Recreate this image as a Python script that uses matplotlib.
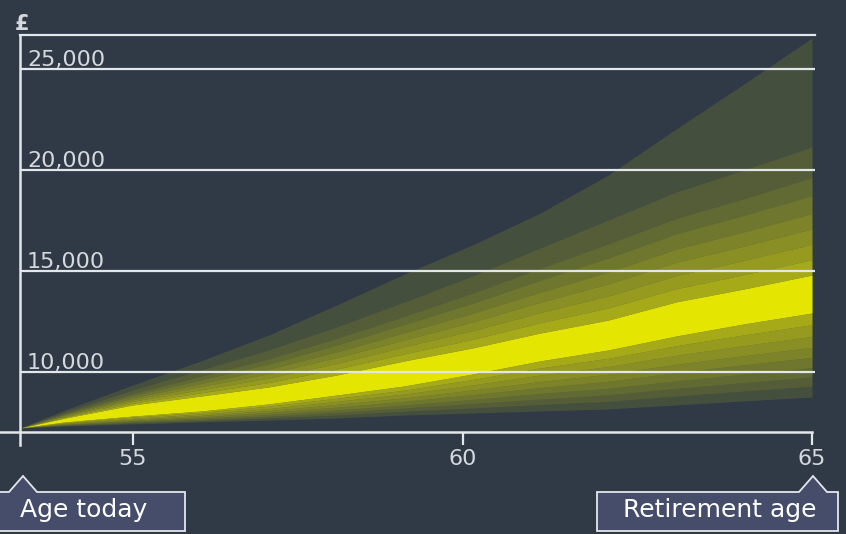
import matplotlib
matplotlib.use("Agg")
import matplotlib.pyplot as plt
from matplotlib.patches import Polygon

# ---------------- data ----------------
ages = [53.34, 54, 55, 56, 57, 58, 59, 60, 61, 62, 63, 64, 65]

p01 = [7230, 7330, 7430, 7530, 7620, 7720, 7870, 7970, 8070, 8170, 8370, 8570, 8760]
p05 = [7230, 7350, 7480, 7590, 7730, 7870, 8060, 8220, 8390, 8550, 8810, 9060, 9300]
p10 = [7230, 7380, 7520, 7650, 7810, 8000, 8220, 8440, 8660, 8870, 9190, 9480, 9760]
p15 = [7230, 7400, 7570, 7710, 7900, 8120, 8370, 8640, 8940, 9190, 9560, 9900, 10220]
p20 = [7230, 7420, 7610, 7780, 8000, 8260, 8550, 8880, 9230, 9540, 9970, 10360, 10720]
p25 = [7230, 7450, 7660, 7850, 8090, 8400, 8720, 9110, 9530, 9890, 10380, 10810, 11220]
p30 = [7230, 7470, 7710, 7920, 8190, 8550, 8910, 9360, 9850, 10270, 10830, 11310, 11760]
p35 = [7230, 7500, 7770, 8000, 8310, 8700, 9100, 9630, 10200, 10680, 11300, 11840, 12340]
p40 = [7230, 7530, 7820, 8070, 8420, 8860, 9310, 9900, 10550, 11090, 11780, 12380, 12920]
p60 = [7230, 7720, 8370, 8810, 9260, 9850, 10550, 11190, 11930, 12570, 13470, 14110, 14800]
p65 = [7230, 7760, 8460, 8970, 9480, 10140, 10900, 11610, 12440, 13170, 14120, 14820, 15560]
p70 = [7230, 7790, 8550, 9120, 9700, 10420, 11250, 12040, 12940, 13760, 14770, 15520, 16320]
p75 = [7230, 7830, 8630, 9280, 9920, 10710, 11590, 12470, 13450, 14360, 15430, 16230, 17080]
p80 = [7230, 7870, 8720, 9430, 10140, 10990, 11950, 12900, 13950, 14950, 16080, 16940, 17840]
p85 = [7230, 7910, 8830, 9610, 10390, 11330, 12360, 13400, 14540, 15640, 16840, 17760, 18730]
p90 = [7230, 7950, 8930, 9790, 10650, 11660, 12760, 13900, 15130, 16340, 17600, 18580, 19620]
p95 = [7230, 8020, 9110, 10100, 11090, 12230, 13470, 14750, 16140, 17520, 18910, 20000, 21140]
p99 = [7230, 8120, 9360, 10550, 11830, 13320, 14850, 16290, 17870, 19750, 22030, 24260, 26530]

lower_bounds = [p01, p05, p10, p15, p20, p25, p30, p35, p40]
upper_bounds = [p99, p95, p90, p85, p80, p75, p70, p65, p60]

grid_values = [10000, 15000, 20000, 25000]
grid_labels = ["10,000", "15,000", "20,000", "25,000"]
xtick_pos = [55, 59.86, 65]
xtick_labels = ["55", "60", "65"]
y_unit = "£"
label_today = "Age today"
label_retire = "Retirement age"

# ---------------- style ----------------
BG = "#2f3a46"
YEL = "#ecec00"
LIGHT = "#e4e7ea"
TXT = "#d5d9dd"
BOX = "#464d6b"
band_alpha = [0.12, 0.20, 0.27, 0.34, 0.41, 0.48, 0.55, 0.63]
center_alpha = 0.97

W, H = 846, 534
fig = plt.figure(figsize=(W / 100, H / 100), dpi=100, facecolor=BG)
ax = fig.add_axes([20 / W, 1 - 432 / H, 795 / W, 397 / H])
ax.set_facecolor(BG)

ax.set_xlim(53.336, 65.044)
ax.set_ylim(7030, 26680)

# fan bands
for i in range(len(band_alpha)):
    ax.fill_between(ages, lower_bounds[i], lower_bounds[i + 1], color=YEL,
                    alpha=band_alpha[i], linewidth=0, zorder=1)
    ax.fill_between(ages, upper_bounds[i + 1], upper_bounds[i], color=YEL,
                    alpha=band_alpha[i], linewidth=0, zorder=1)
ax.fill_between(ages, p40, p60, color=YEL, alpha=center_alpha, linewidth=0, zorder=2)

# grid lines and their labels
for v, lab in zip(grid_values, grid_labels):
    ax.axhline(v, color=LIGHT, lw=1.6, zorder=3)
    ax.annotate(lab, xy=(7 / 795, v), xycoords=ax.get_yaxis_transform(),
                xytext=(0, 3), textcoords="offset pixels", ha="left",
                va="baseline", fontsize=16, color=TXT, zorder=4)

# spines
for s in ["left", "right", "bottom"]:
    ax.spines[s].set_visible(False)
ax.spines["top"].set_color(LIGHT)
ax.spines["top"].set_linewidth(1.6)

# extended axis lines
ax.plot([-20 / 795, 792 / 795], [0, 0], transform=ax.transAxes, color=LIGHT,
        lw=1.8, clip_on=False, zorder=5)
ax.plot([0, 0], [1, -13 / 397], transform=ax.transAxes, color=LIGHT,
        lw=1.8, clip_on=False, zorder=5)

ax.set_yticks([])
ax.set_xticks(xtick_pos)
ax.set_xticklabels(xtick_labels)
ax.tick_params(axis="x", direction="out", length=9, width=1.6, color=LIGHT,
               labelcolor=TXT, labelsize=16, pad=3)

ax.annotate(y_unit, xy=(2 / 795, 1.0), xycoords="axes fraction",
            xytext=(0, 1), textcoords="offset pixels", ha="center",
            va="bottom", fontsize=15, fontweight="bold", color=TXT)

# callout boxes
def callout(x0, x1, apex_x, y_top=492, y_bot=531, half=14, apex_y=476):
    pts = [(x0, y_bot), (x0, y_top), (apex_x - half, y_top), (apex_x, apex_y),
           (apex_x + half, y_top), (x1, y_top), (x1, y_bot)]
    pts = [(px / W, 1 - py / H) for px, py in pts]
    poly = Polygon(pts, closed=True, facecolor=BOX, edgecolor=LIGHT, lw=1.3,
                   transform=fig.transFigure, clip_on=False)
    fig.patches.append(poly)

callout(-3, 185, 23)
callout(597, 838, 813)
fig.text(84 / W, 1 - 510 / H, label_today, ha="center", va="center",
         fontsize=18, color="white")
fig.text(720 / W, 1 - 510 / H, label_retire, ha="center", va="center",
         fontsize=18, color="white")

fig.savefig("out.png", dpi=100, facecolor=BG)
